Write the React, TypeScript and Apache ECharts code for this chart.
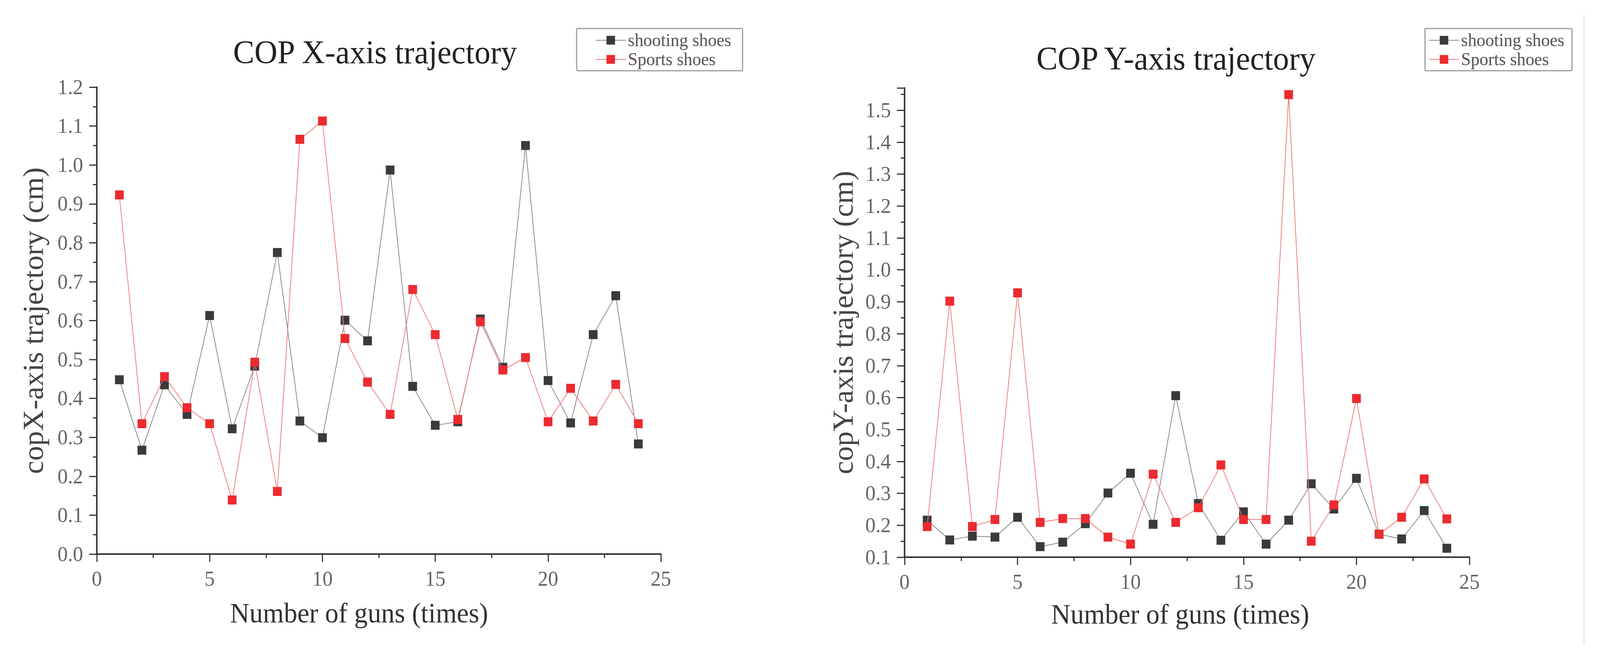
import React, { useEffect, useRef } from 'react';
import * as echarts from 'echarts';

// shot number (x axis)
const gunNumbers = [1, 2, 3, 4, 5, 6, 7, 8, 9, 10, 11, 12, 13, 14, 15, 16, 17, 18, 19, 20, 21, 22, 23, 24];

// COP X-axis trajectory (cm)
const copXShooting = [0.448, 0.267, 0.435, 0.359, 0.613, 0.322, 0.483, 0.775, 0.342, 0.299, 0.601, 0.548, 0.987, 0.431, 0.331, 0.340, 0.604, 0.480, 1.050, 0.446, 0.337, 0.564, 0.664, 0.283];
const copXSports = [0.923, 0.335, 0.456, 0.376, 0.335, 0.139, 0.493, 0.161, 1.066, 1.113, 0.554, 0.442, 0.359, 0.680, 0.564, 0.346, 0.597, 0.473, 0.505, 0.340, 0.426, 0.342, 0.436, 0.335];

// COP Y-axis trajectory (cm)
const copYShooting = [0.216, 0.154, 0.166, 0.163, 0.225, 0.133, 0.147, 0.205, 0.301, 0.363, 0.203, 0.606, 0.268, 0.153, 0.242, 0.141, 0.216, 0.330, 0.251, 0.347, 0.172, 0.157, 0.246, 0.128];
const copYSports = [0.196, 0.902, 0.196, 0.218, 0.928, 0.209, 0.221, 0.221, 0.163, 0.141, 0.360, 0.209, 0.255, 0.389, 0.218, 0.218, 1.549, 0.150, 0.264, 0.597, 0.172, 0.225, 0.345, 0.220];

const seriesNames = ['shooting shoes', 'Sports shoes'];
const chartTitles = ['COP X-axis trajectory', 'COP Y-axis trajectory'];
const yNames = ['copX-axis trajectory (cm)', 'copY-axis trajectory (cm)'];
const xName = 'Number of guns (times)';

const W = 4215;
const H = 1684;
const SERIF = 'Liberation Serif';
const AXIS = '#333';

const pairs = (ys: number[]) => gunNumbers.map((x, i) => [x, ys[i]]);

const xAxisFor = (gridIndex: number, namePadRight: number, nameGap: number) => ({
  type: 'value',
  gridIndex,
  min: 0,
  max: 25,
  interval: 5,
  name: xName,
  nameLocation: 'middle',
  nameGap,
  nameTextStyle: { fontFamily: SERIF, fontSize: 71, color: '#333', padding: [0, namePadRight, 0, 0] },
  axisLine: { show: true, onZero: false, lineStyle: { color: AXIS, width: 4 } },
  axisTick: { show: true, length: 20, lineStyle: { color: AXIS, width: 3 } },
  minorTick: { show: true, splitNumber: 2, length: 10, lineStyle: { color: AXIS, width: 3 } },
  axisLabel: { fontFamily: SERIF, fontSize: 54, color: '#666', margin: 36 },
  splitLine: { show: false },
});

const yAxisFor = (gridIndex: number, min: number, max: number, name: string, nameGap: number) => ({
  type: 'value',
  gridIndex,
  min,
  max,
  interval: 0.1,
  name,
  nameLocation: 'middle',
  nameGap,
  nameTextStyle: { fontFamily: SERIF, fontSize: 76, color: '#444' },
  axisLine: { show: true, onZero: false, lineStyle: { color: AXIS, width: 4 } },
  axisTick: { show: true, length: 20, lineStyle: { color: AXIS, width: 3 } },
  minorTick: { show: true, splitNumber: 2, length: 10, lineStyle: { color: AXIS, width: 3 } },
  axisLabel: {
    fontFamily: SERIF,
    fontSize: 54,
    color: '#666',
    margin: 36,
    showMaxLabel: max === 1.2,
    formatter: (v: number) => v.toFixed(1),
  },
  splitLine: { show: false },
});

const lineSeries = (name: string, data: number[], idx: number, red: boolean) => ({
  type: 'line',
  name,
  xAxisIndex: idx,
  yAxisIndex: idx,
  data: pairs(data),
  symbol: 'rect',
  symbolSize: 23,
  itemStyle: { color: red ? '#ec2a2f' : '#3a3a3a' },
  lineStyle: { color: red ? '#f27c7c' : '#8a8a8a', width: 2 },
  z: red ? 3 : 2,
});

const legendFor = (left: number, padding: number[]) => ({
  orient: 'vertical',
  left,
  top: 73,
  data: seriesNames,
  padding,
  itemWidth: 80,
  itemHeight: 28,
  itemGap: 3,
  borderColor: '#9a9a9a',
  borderWidth: 3,
  borderRadius: 3,
  textStyle: { fontFamily: SERIF, fontSize: 46, color: '#555', lineHeight: 40 },
});

const App = () => {
  const chartRef = useRef<HTMLDivElement>(null);

  // the layout is drawn for a 4215x1684 page; fit it to whatever viewport we get
  const sx = typeof window !== 'undefined' ? window.innerWidth / W : 1;
  const sy = typeof window !== 'undefined' ? window.innerHeight / H : 1;

  useEffect(() => {
    const chart = echarts.init(chartRef.current, undefined, { renderer: 'svg' });

    chart.setOption({
      animation: false,
      backgroundColor: '#fff',
      title: [
        {
          text: chartTitles[0],
          left: 988,
          top: 92,
          textAlign: 'center',
          padding: 0,
          textStyle: { fontFamily: SERIF, fontSize: 84, fontWeight: 'normal', color: '#222' },
        },
        {
          text: chartTitles[1],
          left: 3098,
          top: 108,
          textAlign: 'center',
          padding: 0,
          textStyle: { fontFamily: SERIF, fontSize: 84, fontWeight: 'normal', color: '#222' },
        },
      ],
      legend: [legendFor(1519, [7, 30, 6, 49]), legendFor(3754, [7, 20, 6, 9])],
      grid: [
        { left: 255, top: 223, width: 1486, height: 1195 },
        { left: 2383, top: 225, width: 1488, height: 1201 },
      ],
      xAxis: [xAxisFor(0, 104, 116), xAxisFor(1, 36, 111)],
      yAxis: [yAxisFor(0, 0, 1.2, yNames[0], 130), yAxisFor(1, 0.1, 1.57, yNames[1], 124)],
      series: [
        lineSeries(seriesNames[0], copXShooting, 0, false),
        lineSeries(seriesNames[1], copXSports, 0, true),
        lineSeries(seriesNames[0], copYShooting, 1, false),
        lineSeries(seriesNames[1], copYSports, 1, true),
      ],
      graphic: [
        {
          type: 'line',
          shape: { x1: 4173, y1: 38, x2: 4173, y2: 1649 },
          style: { stroke: '#e2e2e2', lineWidth: 3 },
        },
      ],
    });

    return () => {
      chart.dispose();
    };
  }, []);

  return (
    <div
      style={{
        position: 'absolute',
        left: 0,
        top: 0,
        width: W + 'px',
        height: H + 'px',
        transformOrigin: '0 0',
        transform: `scale(${sx}, ${sy})`,
        background: '#fff',
      }}
    >
      <div ref={chartRef} style={{ width: W + 'px', height: H + 'px' }} />
    </div>
  );
};

export default App;
